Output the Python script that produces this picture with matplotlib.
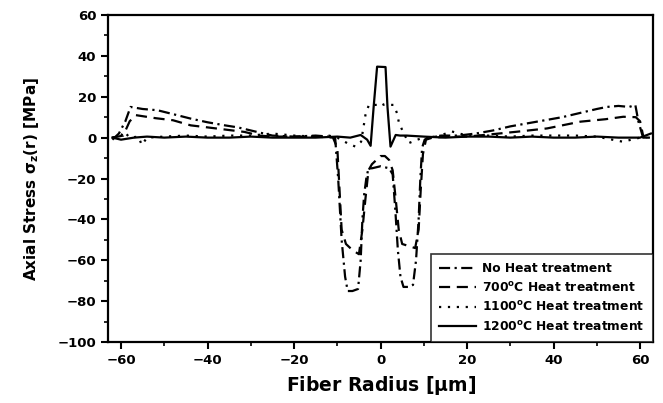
import numpy as np
import matplotlib
matplotlib.use('Agg')
import matplotlib.pyplot as plt
from matplotlib.ticker import MultipleLocator

plt.rcParams['font.family'] = 'DejaVu Sans'
plt.rcParams['font.weight'] = 'bold'
plt.rcParams['mathtext.default'] = 'bf'

# Radius (um) vs axial stress (MPa)
x_none = [-62, -60.5, -59, -57.8, -55, -51.6, -48, -43.9, -40, -36, -33, -30,
          -27, -25, -20, -15, -12, -10.5, -9.8, -9, -8.2, -7.6, -6.5, -5.2,
          -4.6, -4.2, -3.8, -3.3, -2.8, -2, 0, 2, 2.8, 3.4, 4.0, 4.6, 5.3, 6.5,
          7.5, 8.2, 8.8, 9.2, 9.6, 10.2, 11, 14, 18, 22, 26, 30, 34, 38, 42,
          46, 50, 52.3, 55, 57.5, 58.9, 59.6, 60.7, 62.5]
y_none = [-1, 2, 8, 15, 14, 13.4, 11.5, 9.3, 7.5, 6, 5, 3.5,
          2, 1, 0.5, 1, 0.5, 0, -20, -50, -68, -75, -75, -74,
          -60, -40, -28, -20, -15, -15, -14, -15, -18, -35, -55, -68, -73, -73,
          -72, -60, -40, -20, -5, -1, 0, 1, 1, 2, 3.5, 5.5, 7, 8.5, 10,
          12, 14, 15, 15.5, 15, 16, 8, 0, 0]

x_700 = [-62, -59.5, -58, -56.6, -52, -48, -43.9, -40, -34.6, -31.5, -28, -25,
         -20, -15, -11, -10, -9.5, -9, -8, -6.5, -5, -4.2, -3.5, -2.8, -2, -1,
         0, 1, 2, 2.8, 3.5, 4.2, 5, 6.5, 8, 8.8, 9.3, 9.8, 10.5, 12, 16, 20,
         25, 31.6, 38.5, 46.2, 52, 56.1, 59, 60, 60.8, 62.5]
y_700 = [0, 1, 8, 11, 9.5, 8.5, 6, 5, 3.6, 2.8, 1, 0.5,
         0.5, 0.5, 0, -5, -25, -45, -52, -55, -57, -45, -30, -16, -13, -11,
         -9, -9, -11, -16, -30, -45, -52, -53, -54, -45, -25, -8, -1, 0, 0.5, 0.5,
         1.5, 2.9, 4.5, 7.8, 9, 10.2, 10, 8, 0, 0]

x_1100 = [-62, -60, -59.3, -58, -56, -55.2, -54, -50, -45, -40, -35, -30, -25,
          -20, -15, -12, -10, -7.7, -5.8, -4.5, -3.8, -3.5, -2.7, -0.8, 0,
          0.8, 3.0, 3.8, 4.2, 5, 6.5, 8.5, 10, 13, 16.5, 20, 25, 30, 35, 40,
          45, 50, 56, 60, 62.5]
y_1100 = [0, 1, 3, 0, 0.5, -3.6, 0, 0.5, 1, 0.5, 1, 1, 2,
          1, 0.5, 1, 0, -2.7, -4.4, -2, 7, 11, 16, 16, 17,
          16, 16, 12, 7.8, 3.7, -2.7, -1, 0, 0.5, 3, 1, 1, 0.5, 1, 1,
          1, 0.5, -2, 0, 0]

x_1200 = [-62, -60, -57, -54, -50, -45, -40, -35, -30, -25, -20, -15, -10, -7,
          -4.6, -3.1, -2.3, -1.6, -0.8, 1.15, 1.6, 2.3, 3.5, 4.5, 6, 10, 15, 20,
          25, 30, 35, 40, 45, 50, 55, 60, 62.5]
y_1200 = [0, -1, 0, 0.5, 0, 0.5, 0, 0, 0.5, 0, 0, 0, 0.5, 0,
          1.3, -1, -4, 15, 34.7, 34.5, 15, -4.4, 1.3, 1, 1, 0.5, 0, 0.5,
          0.5, 0, 0.5, 0, 0, 0.5, 0, 0, 2]

labels = ['No Heat treatment',
          r'700$^{\mathbf{o}}$C Heat treatment',
          r'1100$^{\mathbf{o}}$C Heat treatment',
          r'1200$^{\mathbf{o}}$C Heat treatment']

fig = plt.figure(figsize=(6.63, 4.03), dpi=100)
ax = fig.add_axes([0.163, 0.151, 0.822, 0.812])

lw = 1.6
ax.plot(x_none, y_none, color='black', linewidth=lw, dashes=(5, 2, 1, 2),
        label=labels[0])
ax.plot(x_700, y_700, color='black', linewidth=lw, dashes=(5, 3),
        label=labels[1])
ax.plot(x_1100, y_1100, color='black', linewidth=lw, dashes=(1, 3),
        label=labels[2])
ax.plot(x_1200, y_1200, color='black', linewidth=lw, label=labels[3])

ax.set_xlim(-63, 63)
ax.set_ylim(-100, 60)
ax.xaxis.set_major_locator(MultipleLocator(20))
ax.xaxis.set_minor_locator(MultipleLocator(10))
ax.yaxis.set_major_locator(MultipleLocator(20))
ax.yaxis.set_minor_locator(MultipleLocator(10))
ax.tick_params(which='major', direction='out', length=5, width=1.5,
               labelsize=9.5)
ax.tick_params(which='minor', direction='out', length=3, width=1.2)
for sp in ax.spines.values():
    sp.set_linewidth(1.6)

ax.set_xlabel(r'Fiber Radius [$\mathbf{\mu}$m]', fontsize=13.5,
              fontweight='bold', labelpad=5)
ax.set_ylabel(r'Axial Stress $\sigma_{z}$(r) [MPa]', fontsize=11,
              fontweight='bold', labelpad=12)

leg = ax.legend(loc='lower right', fontsize=8.8, handlelength=3,
                frameon=True, fancybox=False, edgecolor='black',
                borderaxespad=0, labelspacing=0.45, borderpad=0.7,
                handletextpad=0.5)
leg.get_frame().set_linewidth(1.2)

fig.savefig('out.png', dpi=100)
